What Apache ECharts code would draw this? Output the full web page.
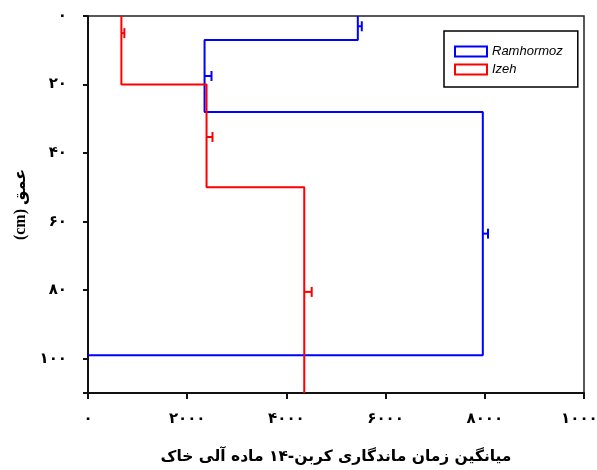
<!DOCTYPE html>
<html>
<head>
<meta charset="utf-8">
<script src="https://cdn.jsdelivr.net/npm/echarts@6/dist/echarts.min.js"></script>
<style>
html,body{margin:0;padding:0;background:#fff;}
#main{width:597px;height:470px;}
</style>
</head>
<body>
<div id="main"></div>
<script>
// ---- data ----
const seriesNames = ['Ramhormoz', 'Izeh'];
// Ramhormoz: mean residence time per depth layer
const blueValues = [5440, 2350, 7960];
const blueTops = [0, 7, 28];
const blueBottoms = [7, 28, 99];
const blueEndValue = 0;
// error bars
const blueErrDepth = [3, 17.5, 63.5];
const blueErrHigh = [5520, 2490, 8065];

// Izeh
const redValues = [673, 2390, 4360];
const redTops = [0, 20, 50];
const redBottoms = [20, 50, 110];
const redErrDepth = [5, 35.3, 80.5];
const redErrHigh = [733, 2510, 4510];

const xTickValues = [0, 2000, 4000, 6000, 8000, 10000];
const yTickValues = [0, 20, 40, 60, 80, 100];
const xTitle = 'میانگین زمان ماندگاری کربن-۱۴ ماده آلی خاک';
const yTitle = '(cm) عمق';

// ---- helpers ----
const fa = s => String(s).replace(/\d/g, d => '۰۱۲۳۴۵۶۷۸۹'[+d]);
function stepPoints(vals, tops, bottoms, endVal) {
  const pts = [];
  vals.forEach((v, i) => { pts.push([v, tops[i]]); pts.push([v, bottoms[i]]); });
  if (endVal !== undefined) pts.push([endVal, bottoms[bottoms.length - 1]]);
  return pts;
}
function errData(vals, depths, highs) {
  return depths.map((d, i) => [vals[i], d, highs[i]]);
}
function errRender(color) {
  return function (params, api) {
    const y = api.value(1);
    const p0 = api.coord([api.value(0), y]);
    const p1 = api.coord([api.value(2), y]);
    const st = { stroke: color, lineWidth: 2 };
    return {
      type: 'group',
      children: [
        { type: 'line', shape: { x1: p0[0], y1: p0[1], x2: p1[0], y2: p1[1] }, style: st },
        { type: 'line', shape: { x1: p1[0], y1: p1[1] - 5, x2: p1[0], y2: p1[1] + 5 }, style: st }
      ]
    };
  };
}

const BLUE = '#0000ff', RED = '#ff0000';
const persianFont = "'DejaVu Sans', 'Noto Sans', sans-serif";

const chart = echarts.init(document.getElementById('main'), null, { renderer: 'canvas' });
chart.setOption({
  animation: false,
  backgroundColor: '#fff',
  grid: { left: 88, right: 13, top: 16, bottom: 77, show: true, borderColor: '#222', borderWidth: 1.5, backgroundColor: 'transparent', outerBoundsMode: 'none', containLabel: false },
  legend: {
    orient: 'vertical',
    left: 444, top: 31,
    padding: [14, 15, 11, 10],
    itemWidth: 32, itemHeight: 10, itemGap: 5,
    icon: 'rect',
    backgroundColor: '#fff',
    borderColor: '#000', borderWidth: 1.5,
    textStyle: { fontFamily: "'Liberation Sans', Arial, sans-serif", fontStyle: 'italic', fontSize: 13, color: '#000', padding: [0, 0, 0, 0], width: 76, overflow: 'none' },
    data: [
      { name: seriesNames[0], itemStyle: { color: '#fff', borderColor: BLUE, borderWidth: 2 } },
      { name: seriesNames[1], itemStyle: { color: '#fff', borderColor: RED, borderWidth: 2 } }
    ]
  },
  xAxis: {
    type: 'value', min: xTickValues[0], max: xTickValues[xTickValues.length - 1], interval: 2000,
    position: 'bottom',
    splitLine: { show: false },
    axisLine: { show: true, onZero: false, lineStyle: { color: '#111', width: 2 } },
    axisTick: { show: true, inside: false, length: 6, lineStyle: { color: '#111', width: 2 } },
    axisLabel: { margin: 19, fontSize: 15, fontWeight: 'bold', color: '#000', fontFamily: persianFont, formatter: v => fa(v), showMaxLabel: true, hideOverlap: false },
    name: xTitle, nameLocation: 'middle', nameGap: 56,
    nameTextStyle: { fontFamily: persianFont, fontWeight: 'bold', fontSize: 15.5, color: '#000' }
  },
  yAxis: {
    type: 'value', inverse: true, min: yTickValues[0], max: 110, interval: 20,
    splitLine: { show: false },
    axisLine: { show: true, onZero: false, lineStyle: { color: '#111', width: 2 } },
    axisTick: { show: true, inside: false, length: 5, lineStyle: { color: '#111', width: 2 } },
    axisLabel: { margin: 21, fontSize: 15, fontWeight: 'bold', color: '#000', fontFamily: persianFont, formatter: v => (yTickValues.indexOf(v) >= 0 ? fa(v) : '') },
    name: yTitle, nameLocation: 'middle', nameGap: 56, nameRotate: 90,
    nameTextStyle: { fontFamily: "'Liberation Serif', 'DejaVu Sans', serif", fontWeight: 'bold', fontSize: 16, color: '#000' }
  },
  series: [
    {
      name: seriesNames[0], type: 'line', symbol: 'none', clip: false,
      data: stepPoints(blueValues, blueTops, blueBottoms, blueEndValue),
      lineStyle: { color: BLUE, width: 2 }, itemStyle: { color: BLUE }
    },
    {
      name: seriesNames[1], type: 'line', symbol: 'none', clip: false,
      data: stepPoints(redValues, redTops, redBottoms),
      lineStyle: { color: RED, width: 2 }, itemStyle: { color: RED }
    },
    {
      name: 'errBlue', type: 'custom', renderItem: errRender(BLUE),
      encode: { x: [0, 2], y: 1 },
      data: errData(blueValues, blueErrDepth, blueErrHigh)
    },
    {
      name: 'errRed', type: 'custom', renderItem: errRender(RED),
      encode: { x: [0, 2], y: 1 },
      data: errData(redValues, redErrDepth, redErrHigh)
    }
  ]
});
</script>
</body>
</html>
